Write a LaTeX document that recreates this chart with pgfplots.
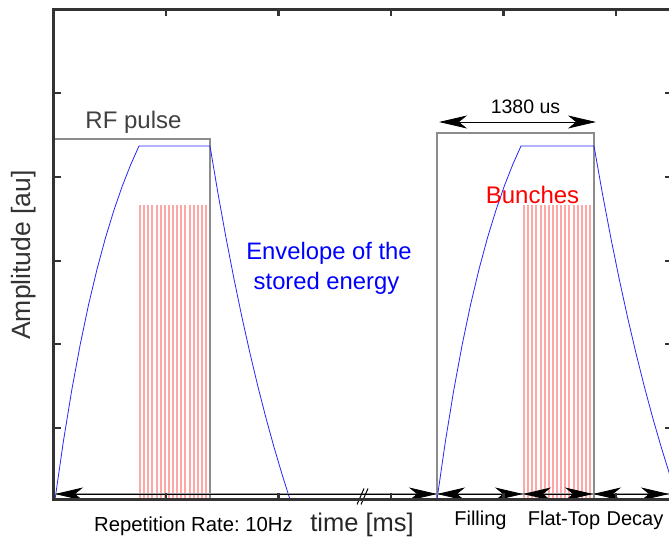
\documentclass[border=0pt]{standalone}
\usepackage{pgfplots}
\pgfplotsset{compat=1.18}
\usepackage{fontspec}
\setmainfont{Liberation Sans}
\usetikzlibrary{arrows.meta}
\newcommand{\fs}[1]{\fontsize{#1}{#1}\selectfont}
\frenchspacing
\begin{document}
\begin{tikzpicture}
\useasboundingbox (0pt,0pt) rectangle (669pt,541pt);
\clip (0pt,0pt) rectangle (669pt,541pt);
\begin{axis}[
  at={(53.5pt,41.5pt)}, anchor=south west,
  scale only axis, width=618.5pt, height=490pt,
  xmin=53.5, xmax=672, ymin=0, ymax=490,
  xtick={166,278.5,391,503.5,616},
  ytick={71.5,155.5,238.5,322.5,406.5},
  xticklabels={}, yticklabels={},
  tick pos=both, tick align=inside, major tick length=7pt,
  axis line style={line width=3pt, black!80},
  every tick/.style={line width=2.5pt, black!80},
  axis on top,
  clip mode=individual,
]
% bunches
\addplot[ycomb, red!35, line width=2pt, mark=none] coordinates {
(140,294.5) (144.125,294.5) (148.25,294.5) (152.375,294.5) (156.5,294.5)
(160.625,294.5) (164.75,294.5) (168.875,294.5) (173,294.5) (177.125,294.5)
(181.25,294.5) (185.375,294.5) (189.5,294.5) (193.625,294.5) (197.75,294.5)
(201.875,294.5) (206,294.5)};
\addplot[ycomb, red!35, line width=2pt, mark=none] coordinates {
(524,294) (528.125,294) (532.25,294) (536.375,294) (540.5,294)
(544.625,294) (548.75,294) (552.875,294) (557,294) (561.125,294)
(565.25,294) (569.375,294) (573.5,294) (577.625,294) (581.75,294)
(585.875,294) (590,294)};
% RF pulses
\addplot[black!45, line width=1.2pt, mark=none] coordinates {
(53.5,360.5) (210,360.5) (210,0)};
\addplot[black!45, line width=1.2pt, mark=none] coordinates {
(437,0) (437,366.5) (594,366.5) (594,0)};
% envelopes
\addplot[blue!85, line width=0.8pt, mark=none] coordinates {
(55,0) (63.4,58.2) (71.8,109.6) (80.2,154.9) (88.6,195.0) (97,230.2)
(105.4,261.4) (113.8,288.9) (122.2,313.2) (130.6,334.6) (139,353.5)
(210,353.5) (218,306.0) (226,261.8) (234,220.5) (242,182.0) (250,146.1)
(258,112.7) (266,81.4) (274,52.4) (282,25.3) (290,0)};
\addplot[blue!85, line width=0.8pt, mark=none] coordinates {
(437,0) (445.4,58.2) (453.8,109.6) (462.2,154.9) (470.6,195.0) (479,230.2)
(487.4,261.4) (495.8,288.9) (504.2,313.2) (512.6,334.6) (521,353.5)
(594,353.5) (602.4,306.0) (610.8,261.8) (619.2,220.5) (627.6,182.0) (636,146.1)
(644.4,112.7) (652.8,81.4) (661.2,52.4) (669.6,25.3) (678,0)};
% baseline and arrows
\draw[black!40, line width=2pt] (axis cs:53.5,5.5) -- (axis cs:672,5.5);
\begin{scope}[black, line width=0.8pt, {Stealth[length=28pt,width=13pt,inset=8pt]}-{Stealth[length=28pt,width=13pt,inset=8pt]}]
\draw (axis cs:55,5.5) -- (axis cs:437,5.5);
\draw (axis cs:437,5.5) -- (axis cs:523,5.5);
\draw (axis cs:523,5.5) -- (axis cs:593,5.5);
\draw (axis cs:593,5.5) -- (axis cs:669,5.5);
\draw (axis cs:439,377.5) -- (axis cs:596,377.5);
\end{scope}
% axis break
\draw[black, line width=1pt] (axis cs:357,-5) -- (axis cs:364,11);
\draw[black, line width=1pt] (axis cs:361,-5) -- (axis cs:368,11);
% texts
\node[anchor=base, text=black!75, font=\fs{24}] at (axis cs:133.5,371.2) {RF pulse};
\node[anchor=base, text=black, font=\fs{19.5}] at (axis cs:525.5,385.5) {1380 us};
\node[anchor=base, text=red, font=\fs{24}] at (axis cs:532.5,295.5) {Bunches};
\node[anchor=base, text=blue, font=\fs{23.8}] at (axis cs:329,240.2) {Envelope of the};
\node[anchor=base, text=blue, font=\fs{23.8}] at (axis cs:326.5,210.2) {stored energy};
\node[rotate=90, text=black!80, font=\fs{26.5}] at (axis cs:24,244.5) {Amplitude [au]};
\node[anchor=base, text=black!85, font=\fs{25.5}] at (axis cs:362,-32.2) {time [ms]};
\node[anchor=base, text=black, font=\fs{20.3}] at (axis cs:193.5,-31.5) {Repetition Rate: 10Hz};
\node[anchor=base, text=black, font=\fs{20}] at (axis cs:480.5,-25.5) {Filling};
\node[anchor=base, text=black, font=\fs{20}] at (axis cs:564,-25.5) {Flat-Top};
\node[anchor=base, text=black, font=\fs{20}] at (axis cs:635,-25.5) {Decay};
\end{axis}
\end{tikzpicture}
\end{document}
